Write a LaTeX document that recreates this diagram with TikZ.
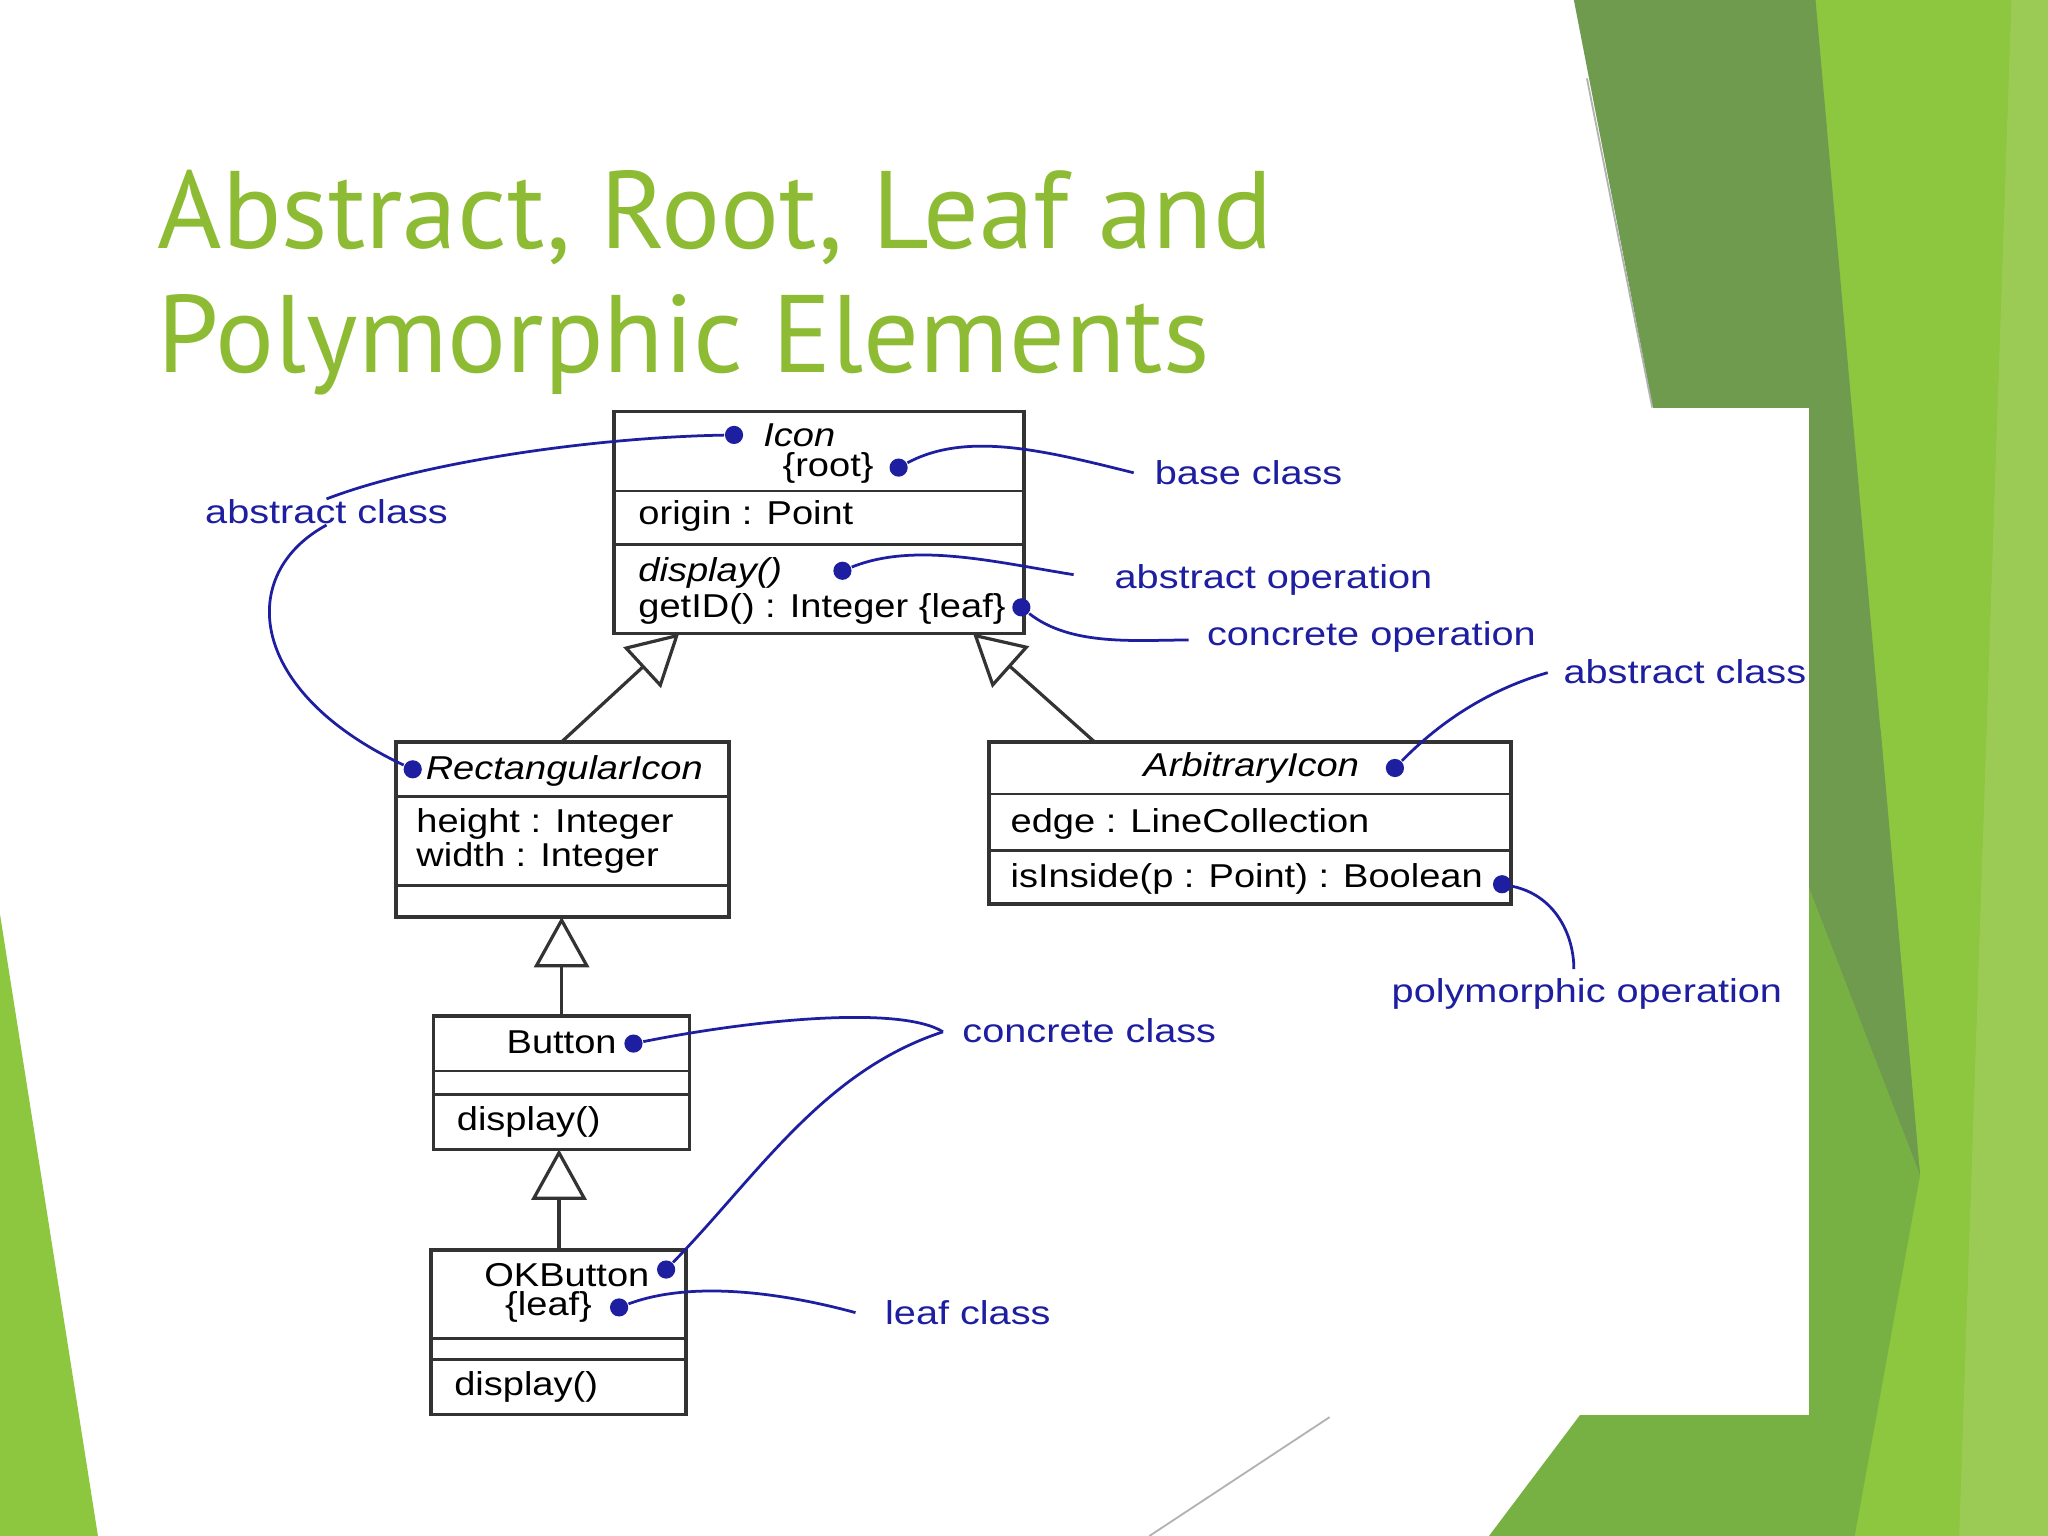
\documentclass[tikz,border=0pt]{standalone}
\usepackage{fontspec}
\setmainfont{Liberation Sans}
\newfontfamily\titlefont{PT Sans}
\usetikzlibrary{arrows.meta}
\definecolor{tgreen}{HTML}{8DBB34}
\definecolor{g1}{HTML}{8DC63F}
\definecolor{g2}{HTML}{6F9B4F}
\definecolor{g3}{HTML}{77B144}
\definecolor{g4}{HTML}{9CCB55}
\definecolor{ann}{HTML}{1E1EA0}
\begin{document}
\begin{tikzpicture}[x=0.01cm,y=-0.01cm,
  box/.style={draw=black!80,line width=0.8pt},
  sep/.style={draw=black!80,line width=0.6pt},
  t/.style={font=\fontsize{7.2}{8}\selectfont,inner sep=0pt,xscale=1.15},
  ti/.style={font=\fontsize{7.2}{8}\selectfont\itshape,inner sep=0pt,xscale=1.15},
  atx/.style={font=\fontsize{7.2}{8}\selectfont,text=ann,inner sep=0pt,xscale=1.2},
  an/.style={draw=ann,line width=0.6pt},
  dot/.style={fill=ann,circle,inner sep=1.4pt},
  inh/.style={draw=black!80,line width=0.7pt,-{Triangle[open,length=11pt,width=12pt]}}]
\useasboundingbox (0,0) rectangle (1568,1176);
% background
\fill[g1] (1385,0) -- (1568,0) -- (1568,1176) -- (1385,1176) -- cycle;
\fill[g2] (1205,0) -- (1390,0) -- (1470,900) -- (1265,310) -- cycle;
\fill[g2] (1385,300) -- (1440,560) -- (1470,900) -- (1385,680) -- cycle;
\fill[g4] (1540,0) -- (1568,0) -- (1568,1176) -- (1500,1176) -- cycle;
\fill[g3] (1385,680) -- (1470,900) -- (1420,1176) -- (1385,1176) -- cycle;
\fill[g3] (1140,1176) -- (1210,1083) -- (1385,1083) -- (1420,1176) -- cycle;
\fill[g1] (0,700) -- (75,1176) -- (0,1176) -- cycle;
\draw[gray!60,line width=0.4pt] (1215,60) -- (1265,312);
\draw[gray!60,line width=0.4pt] (880,1176) -- (1018,1085);
\fill[white] (130,312) rectangle (1385,1083);
% title
\node[anchor=base west,inner sep=0pt,text=tgreen,font=\titlefont\fontsize{24}{28}\selectfont] (t1) at (120,190) {Abstract, Root, Leaf and};
\node[anchor=base west,inner sep=0pt,text=tgreen,font=\titlefont\fontsize{24}{28}\selectfont] (t2) at (120,285) {Polymorphic Elements};
% Icon
\draw[box] (470,315) rectangle (784,485);
\draw[sep] (470,376) -- (784,376) (470,417) -- (784,417);
\node[ti] (icon) at (612,333) {Icon};
\node[t] (root) at (634,358) {\{root\}};
\node[t,anchor=west] (origin) at (488,395) {origin : Point};
\node[ti,anchor=west] (disp) at (488,439) {display()};
\node[t,anchor=west] (getid) at (488,466) {getID() : Integer \{leaf\}};
% RectangularIcon
\draw[box] (303,568) rectangle (558,702);
\draw[sep] (303,610) -- (558,610) (303,678) -- (558,678);
\node[ti] (rect) at (432,590) {RectangularIcon};
\node[t,anchor=west] (h) at (318,631) {height : Integer};
\node[t,anchor=west] (w) at (318,657) {width : Integer};
% ArbitraryIcon
\draw[box] (757,568) rectangle (1157,692);
\draw[sep] (757,608) -- (1157,608) (757,651) -- (1157,651);
\node[ti] (arb) at (958,588) {ArbitraryIcon};
\node[t,anchor=west] (edge) at (773,631) {edge : LineCollection};
\node[t,anchor=west] (isin) at (773,673) {isInside(p : Point) : Boolean};
% Button
\draw[box] (332,778) rectangle (528,880);
\draw[sep] (332,820) -- (528,820) (332,838) -- (528,838);
\node[t] (btn) at (430,798) {Button};
\node[t,anchor=west] (bd) at (349,859) {display()};
% OKButton
\draw[box] (330,957) rectangle (525,1083);
\draw[sep] (330,1025) -- (525,1025) (330,1041) -- (525,1041);
\node[t] (okb) at (434,976) {OKButton};
\node[t] (leaf) at (420,1001) {\{leaf\}};
\node[t,anchor=west] (okd) at (347,1062) {display()};
% inheritance
\coordinate (ic1) at (520,485); \coordinate (ic2) at (745,485);
\coordinate (r1) at (430,568); \coordinate (a1) at (838,568);
\coordinate (rb) at (430,702); \coordinate (bt) at (430,778);
\coordinate (bb) at (428,880); \coordinate (ot) at (428,957);
\draw[inh] (r1) -- (ic1);
\draw[inh] (a1) -- (ic2);
\draw[inh] (bt) -- (rb);
\draw[inh] (ot) -- (bb);
% annotations
\node[atx] (ac1) at (250,392) {abstract class};
\node[atx] (bc) at (956,362) {base class};
\node[atx] (ao) at (975,444) {abstract operation};
\node[atx] (co) at (1050,488) {concrete operation};
\node[atx] (ac2) at (1290,514) {abstract class};
\node[atx] (po) at (1215,761) {polymorphic operation};
\node[atx] (cc) at (834,789) {concrete class};
\node[atx] (lc) at (741,1005) {leaf class};
\node[dot] (d1) at (562,333) {};
\node[dot] (d2) at (316,589) {};
\node[dot] (d3) at (688,358) {};
\node[dot] (d4) at (645,437) {};
\node[dot] (d5) at (782,465) {};
\node[dot] (d6) at (1068,588) {};
\node[dot] (d7) at (1150,677) {};
\node[dot] (d8) at (485,799) {};
\node[dot] (d9) at (510,972) {};
\node[dot] (d10) at (474,1001) {};
\coordinate (pot) at (1205,742);
\coordinate (bce) at (868,362);
\coordinate (aoe) at (822,440);
\coordinate (coe) at (910,490);
\coordinate (ace) at (1185,515);
\coordinate (lce) at (655,1005);
\draw[an] (d1) .. controls (450,335) and (320,355) .. (ac1.north);
\draw[an] (ac1.south) .. controls (180,440) and (190,530) .. (d2);
\draw[an] (d3) .. controls (740,330) and (800,345) .. (bce);
\draw[an] (d4) .. controls (700,415) and (760,430) .. (aoe);
\draw[an] (d5) .. controls (820,495) and (870,490) .. (coe);
\draw[an] (d6) .. controls (1110,545) and (1150,525) .. (ace);
\draw[an] (d7) .. controls (1190,685) and (1205,715) .. (pot);
\coordinate (cj) at (722,790);
\draw[an] (d8) .. controls (580,780) and (690,770) .. (cj);
\draw[an] (d9) .. controls (580,900) and (630,820) .. (cj);
\draw[an] (d10) .. controls (530,980) and (600,990) .. (lce);
\end{tikzpicture}
\end{document}
